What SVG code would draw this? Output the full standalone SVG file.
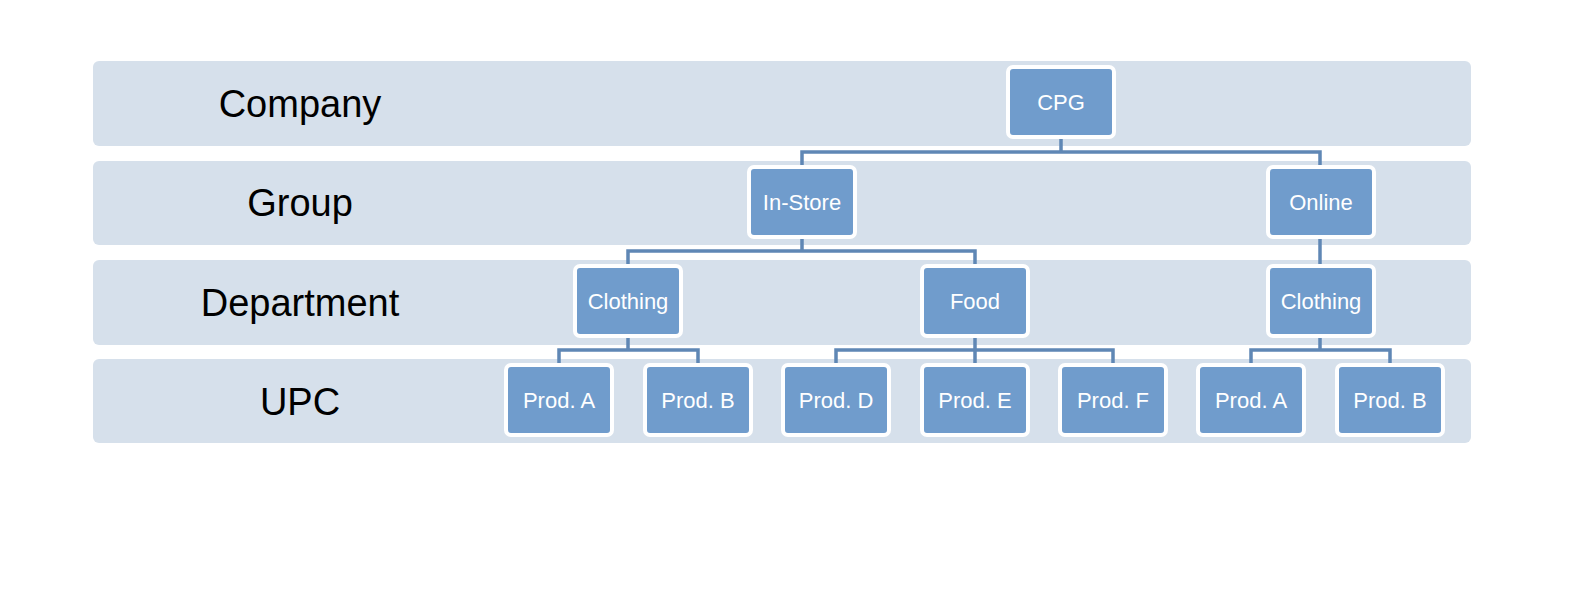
<svg xmlns="http://www.w3.org/2000/svg" width="1584" height="590" viewBox="0 0 1584 590">
<style>
.band{fill:#d6e0eb}
.lvl{font-family:"Liberation Sans",Arial,sans-serif;font-size:38px;fill:#000;text-anchor:middle}
.box{fill:#709ccc;stroke:#fff;stroke-width:4}
.bt{font-family:"Liberation Sans",Arial,sans-serif;font-size:22px;fill:#fff;text-anchor:middle}
.con{fill:none;stroke:#5f87b5;stroke-width:3.5}
</style>
<rect width="1584" height="590" fill="#fff"/>
<g id="bands">
<rect class="band" x="93" y="61" width="1378" height="85" rx="6"/>
<rect class="band" x="93" y="161" width="1378" height="84" rx="6"/>
<rect class="band" x="93" y="260" width="1378" height="85" rx="6"/>
<rect class="band" x="93" y="359" width="1378" height="84" rx="6"/>
<text class="lvl" x="300" y="117">Company</text>
<text class="lvl" x="300" y="216">Group</text>
<text class="lvl" x="300" y="316">Department</text>
<text class="lvl" x="300" y="415">UPC</text>
</g>
<g id="connectors">
<path class="con" d="M1061 139V152M802 165V152H1320V165"/>
<path class="con" d="M802 239V251M628 264V251H975V264"/>
<path class="con" d="M1320 239V264"/>
<path class="con" d="M628 338V350M559 363V350H698V363"/>
<path class="con" d="M975 338V363M836 363V350H1113V363"/>
<path class="con" d="M1320 338V350M1251 363V350H1390V363"/>
</g>
<g id="cpg"><rect class="box" x="1008" y="67" width="106" height="70" rx="5"/><text class="bt" x="1061" y="110">CPG</text></g>
<g id="instore"><rect class="box" x="749" y="167" width="106" height="70" rx="5"/><text class="bt" x="802" y="210">In-Store</text></g>
<g id="online"><rect class="box" x="1268" y="167" width="106" height="70" rx="5"/><text class="bt" x="1321" y="210">Online</text></g>
<g id="clothing1"><rect class="box" x="575" y="266" width="106" height="70" rx="5"/><text class="bt" x="628" y="309">Clothing</text></g>
<g id="food"><rect class="box" x="922" y="266" width="106" height="70" rx="5"/><text class="bt" x="975" y="309">Food</text></g>
<g id="clothing2"><rect class="box" x="1268" y="266" width="106" height="70" rx="5"/><text class="bt" x="1321" y="309">Clothing</text></g>
<g id="prodA1"><rect class="box" x="506" y="365" width="106" height="70" rx="5"/><text class="bt" x="559" y="408">Prod. A</text></g>
<g id="prodB1"><rect class="box" x="645" y="365" width="106" height="70" rx="5"/><text class="bt" x="698" y="408">Prod. B</text></g>
<g id="prodD"><rect class="box" x="783" y="365" width="106" height="70" rx="5"/><text class="bt" x="836" y="408">Prod. D</text></g>
<g id="prodE"><rect class="box" x="922" y="365" width="106" height="70" rx="5"/><text class="bt" x="975" y="408">Prod. E</text></g>
<g id="prodF"><rect class="box" x="1060" y="365" width="106" height="70" rx="5"/><text class="bt" x="1113" y="408">Prod. F</text></g>
<g id="prodA2"><rect class="box" x="1198" y="365" width="106" height="70" rx="5"/><text class="bt" x="1251" y="408">Prod. A</text></g>
<g id="prodB2"><rect class="box" x="1337" y="365" width="106" height="70" rx="5"/><text class="bt" x="1390" y="408">Prod. B</text></g>
</svg>
